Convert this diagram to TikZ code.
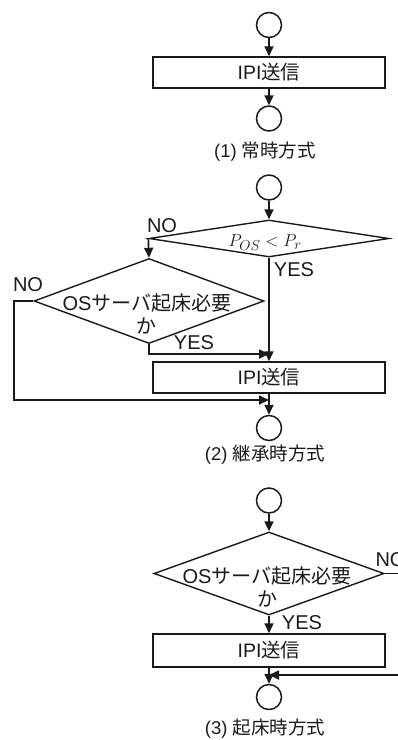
\documentclass[tikz,border=0pt]{standalone}
\usepackage{fontspec}
\setmainfont{Liberation Sans}
\newfontfamily\jpfont{Noto Sans CJK JP}
\usetikzlibrary{arrows.meta,shapes.geometric,calc}
\definecolor{FCInk}{HTML}{1A1A1A}
\tikzset{
  flow/.style={-{Triangle[length=10pt,width=9pt]},FCInk,line width=1.7pt},
  terminal/.style={circle,draw=FCInk,line width=1.5pt,minimum size=25pt,inner sep=0pt},
  procbox/.style={rectangle,draw=FCInk,line width=1.5pt,minimum width=232pt,
                  minimum height=31pt,inner sep=0pt,text=FCInk,font=\fontsize{19.5}{21}\selectfont},
  decision/.style={diamond,draw=FCInk,line width=1.4pt,inner sep=0pt},
  condtext/.style={text=FCInk,align=center,font=\fontsize{20}{23}\selectfont},
  branch/.style={text=FCInk,font=\fontsize{20}{22}\selectfont},
  caption/.style={text=FCInk,font=\fontsize{18.5}{20}\selectfont},
}
\begin{document}
\begin{tikzpicture}[x=1pt,y=-1pt]
  \clip (0,0) rectangle (398,740);
  % (1) always
  \node[terminal] (start1) at (269,25) {};
  \node[procbox] (ipi1) at (269,72.5) {IPI{\jpfont 送信}};
  \node[terminal] (end1) at (269,118.5) {};
  \node[caption] (cap1) at (265,152) {(1) {\jpfont 常時方式}};
  \draw[flow] (start1) -- (ipi1);
  \draw[flow] (ipi1) -- (end1);

  % (2) inherit
  \node[terminal] (start2) at (269,187.5) {};
  \node[decision,minimum width=240pt,minimum height=37pt] (pcmp) at (269,238.5) {};
  \node[text=FCInk,font=\fontsize{19}{21}\selectfont] (pcmptext) at (265,243) {$P_{OS} < P_r$};
  \node[decision,minimum width=230pt,minimum height=85pt] (need2) at (149,301) {};
  \node[condtext] (need2text) at (147,314) {OS{\jpfont サーバ起床必要}\\{\jpfont か}};
  \node[procbox] (ipi2) at (269,377.5) {IPI{\jpfont 送信}};
  \node[terminal] (end2) at (269,428) {};
  \coordinate (join2a) at (269,354);
  \coordinate (join2b) at (269,400);
  \node[branch] (no2a) at (162,226) {NO};
  \node[branch] (yes2a) at (294,270) {YES};
  \node[branch] (no2b) at (28,285) {NO};
  \node[branch] (yes2b) at (194,343) {YES};
  \node[caption] (cap2) at (265,455) {(2) {\jpfont 継承時方式}};
  \draw[flow] (start2) -- (pcmp);
  \draw[flow] (pcmp.west) -- (need2.north);
  \draw[flow] (pcmp.south) -- (ipi2.north);
  \draw[flow] (need2.south) |- (join2a);
  \draw[flow] (need2.west) -- ++(-19,0) |- (join2b);
  \draw[flow] (ipi2) -- (end2);

  % (3) wake-up
  \node[terminal] (start3) at (269,500.5) {};
  \node[decision,minimum width=230pt,minimum height=83pt] (need3) at (269,573.5) {};
  \node[condtext] (need3text) at (267,587) {OS{\jpfont サーバ起床必要}\\{\jpfont か}};
  \node[procbox,minimum height=33pt] (ipi3) at (269,650.5) {IPI{\jpfont 送信}};
  \node[terminal] (end3) at (269,697) {};
  \coordinate (join3) at (269,675);
  \node[branch,anchor=west] (no3) at (372,560) {NO};
  \node[branch] (yes3) at (302,623) {YES};
  \node[caption] (cap3) at (265,728.5) {(3) {\jpfont 起床時方式}};
  \draw[flow] (start3) -- (need3);
  \draw[flow] (need3) -- (ipi3);
  \draw[flow] (need3.east) -- ++(40,0) |- (join3);
  \draw[flow] (ipi3) -- (end3);
\end{tikzpicture}
\end{document}
